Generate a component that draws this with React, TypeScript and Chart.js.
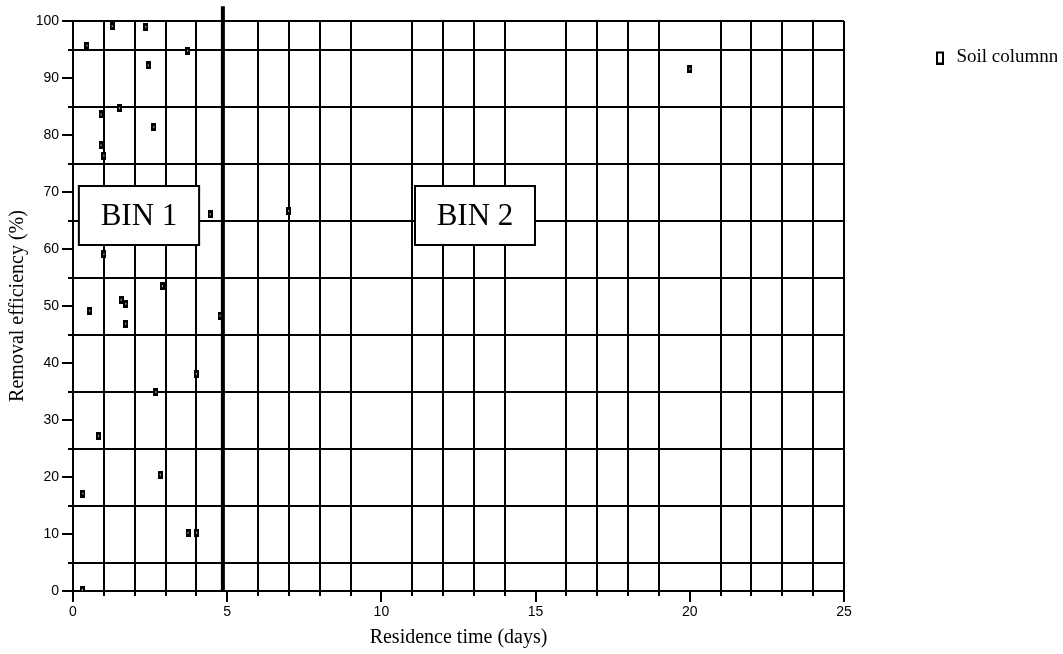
import React, { useEffect, useRef } from "react";
import { Chart, registerables } from "chart.js";

Chart.register(...registerables);

// ---- Data ----
const seriesName = "Soil columnn";
const residenceTime = [
  0.45, 1.27, 2.36, 2.44, 3.72, 0.91, 1.51, 2.62, 0.91, 1.0,
  4.45, 6.99, 1.0, 0.54, 1.56, 1.71, 1.71, 2.9, 4.77, 4.0,
  2.69, 0.83, 2.83, 0.32, 3.73, 4.01, 0.3, 20.0,
];
const removalEfficiency = [
  95.7, 99.1, 99.0, 92.2, 94.8, 83.6, 84.7, 81.4, 78.2, 76.4,
  66.1, 66.7, 59.1, 49.2, 51.1, 50.4, 46.9, 53.5, 48.3, 38.1,
  34.9, 27.2, 20.4, 17.1, 10.2, 10.2, 0.2, 91.6,
];
const binBoundaryX = [4.86, 4.86];
const binBoundaryY = [0, 102.6];
const binLabels = ["BIN 1", "BIN 2"];
const binBoxX = [
  [0.19, 4.09],
  [11.09, 14.98],
];
const binBoxY = [60.7, 71.05];
const xMajorTicks = [0, 5, 10, 15, 20, 25];
const yMajorTicks = [0, 10, 20, 30, 40, 50, 60, 70, 80, 90, 100];

const SERIF = "'Liberation Serif', 'Times New Roman', serif";
const SANS = "'Liberation Sans', Arial, sans-serif";

function makeMarker(): HTMLCanvasElement {
  const c = document.createElement("canvas");
  c.width = 5;
  c.height = 8;
  const g = c.getContext("2d")!;
  g.fillStyle = "#000";
  g.fillRect(0, 0, 5, 8);
  g.fillStyle = "#bbb";
  g.fillRect(2, 3, 1, 2);
  return c;
}

function makeLegendMarker(): HTMLCanvasElement {
  const c = document.createElement("canvas");
  c.width = 76;
  c.height = 14;
  const g = c.getContext("2d")!;
  g.fillStyle = "#000";
  g.fillRect(65, 1, 8, 13);
  g.fillStyle = "#fff";
  g.fillRect(67, 3, 4, 9);
  return c;
}

const decorPlugin = {
  id: "decor",
  beforeDatasetsDraw(chart: any) {
    const { ctx, scales } = chart;
    const xs = scales.x;
    const ys = scales.y;
    ctx.save();
    binLabels.forEach((label, i) => {
      const x1 = xs.getPixelForValue(binBoxX[i][0]);
      const x2 = xs.getPixelForValue(binBoxX[i][1]);
      const y1 = ys.getPixelForValue(binBoxY[1]);
      const y2 = ys.getPixelForValue(binBoxY[0]);
      ctx.fillStyle = "#fff";
      ctx.fillRect(x1, y1, x2 - x1, y2 - y1);
      ctx.strokeStyle = "#000";
      ctx.lineWidth = 2;
      ctx.strokeRect(x1, y1, x2 - x1, y2 - y1);
      ctx.fillStyle = "#000";
      ctx.font = `31px ${SERIF}`;
      ctx.textAlign = "center";
      ctx.textBaseline = "middle";
      ctx.fillText(label, (x1 + x2) / 2, (y1 + y2) / 2 + 1);
    });
    ctx.restore();
  },
  afterDraw(chart: any) {
    const { ctx, scales, chartArea } = chart;
    ctx.save();
    ctx.strokeStyle = "#000";
    ctx.lineWidth = 2;
    xMajorTicks.forEach((v) => {
      const px = Math.round(scales.x.getPixelForValue(v));
      ctx.beginPath();
      ctx.moveTo(px, chartArea.bottom);
      ctx.lineTo(px, chartArea.bottom + 11);
      ctx.stroke();
    });
    yMajorTicks.forEach((v) => {
      const py = Math.round(scales.y.getPixelForValue(v));
      ctx.beginPath();
      ctx.moveTo(chartArea.left, py);
      ctx.lineTo(chartArea.left - 11, py);
      ctx.stroke();
    });
    ctx.restore();
  },
};

export default function App() {
  const ref = useRef<HTMLCanvasElement>(null);

  useEffect(() => {
    if (!ref.current) return;
    const marker = makeMarker();
    const legendMarker = makeLegendMarker();
    const points = residenceTime.map((x, i) => ({ x, y: removalEfficiency[i] }));
    const divider = binBoundaryX.map((x, i) => ({ x, y: binBoundaryY[i] }));

    const chart = new Chart(ref.current, {
      type: "scatter",
      data: {
        datasets: [
          {
            label: seriesName,
            data: points,
            pointStyle: marker as any,
            pointRadius: 3,
            backgroundColor: "#000",
            borderColor: "#000",
          },
          {
            label: "boundary",
            data: divider,
            showLine: true,
            pointRadius: 0,
            borderColor: "#000",
            borderWidth: 4,
            clip: false as any,
          },
        ],
      },
      options: {
        animation: false,
        responsive: false,
        maintainAspectRatio: false,
        layout: { padding: { top: 21, left: 0, right: 6, bottom: 0 } },
        plugins: {
          tooltip: { enabled: false },
          legend: {
            position: "right",
            align: "start",
            maxWidth: 213,
            labels: {
              usePointStyle: true,
              pointStyle: legendMarker as any,
              pointStyleWidth: 76,
              padding: 27,
              color: "#000",
              font: { family: SERIF, size: 19 },
              filter: (item: any) => item.datasetIndex === 0,
            },
          },
        },
        scales: {
          x: {
            type: "linear",
            min: 0,
            max: 25,
            afterFit: (s: any) => {
              s.height = 63;
            },
            border: { display: true, color: "#000", width: 2 },
            grid: {
              color: (c: any) => {
                const v = c.tick ? c.tick.value : 0;
                if (v === 25) return "#000";
                return v % 5 === 0 ? "rgba(0,0,0,0)" : "#000";
              },
              lineWidth: 2,
              drawTicks: true,
              tickLength: 5,
              tickColor: (c: any) => {
                const v = c.tick ? c.tick.value : 0;
                return v % 5 === 0 ? "rgba(0,0,0,0)" : "#000";
              },
              tickWidth: 2,
            },
            ticks: {
              stepSize: 1,
              autoSkip: false,
              maxRotation: 0,
              padding: 8,
              color: "#000",
              font: { family: SANS, size: 14 },
              callback: (v: any) => (Number(v) % 5 === 0 ? String(v) : ""),
            },
            title: {
              display: true,
              text: "Residence time (days)",
              color: "#000",
              font: { family: SERIF, size: 20 },
              padding: { top: 0, bottom: 4 },
            },
          },
          y: {
            type: "linear",
            min: 0,
            max: 100,
            afterFit: (s: any) => {
              s.width = 73;
            },
            border: { display: true, color: "#000", width: 2 },
            grid: {
              color: (c: any) => {
                const v = c.tick ? c.tick.value : 0;
                if (v === 100) return "#000";
                return v % 10 === 0 ? "rgba(0,0,0,0)" : "#000";
              },
              lineWidth: 2,
              drawTicks: true,
              tickLength: 5,
              tickColor: (c: any) => {
                const v = c.tick ? c.tick.value : 0;
                return v % 10 === 0 ? "rgba(0,0,0,0)" : "#000";
              },
              tickWidth: 2,
            },
            ticks: {
              stepSize: 5,
              autoSkip: false,
              padding: 9,
              color: "#000",
              font: { family: SANS, size: 14 },
              callback: (v: any) => (Number(v) % 10 === 0 ? String(v) : ""),
            },
            title: {
              display: true,
              text: "Removal efficiency (%)",
              color: "#000",
              font: { family: SERIF, size: 20 },
              padding: { top: 6, bottom: 0 },
            },
          },
        },
      },
      plugins: [decorPlugin],
    });
    return () => chart.destroy();
  }, []);

  return (
    <div style={{ position: "fixed", left: 0, top: 0, width: 1063, height: 654, background: "#fff" }}>
      <canvas ref={ref} width={1063} height={654} style={{ display: "block" }} />
    </div>
  );
}
